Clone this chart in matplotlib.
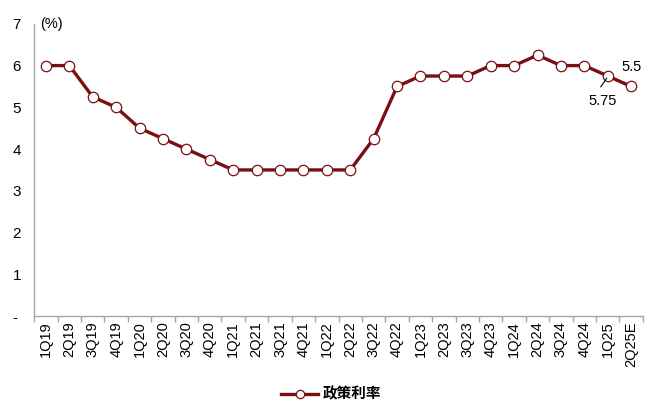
import matplotlib
matplotlib.use("Agg")
import matplotlib.pyplot as plt
from matplotlib.lines import Line2D

plt.rcParams['font.family'] = ['Liberation Sans', 'Noto Sans CJK SC', 'DejaVu Sans']

categories = ["1Q19", "2Q19", "3Q19", "4Q19", "1Q20", "2Q20", "3Q20", "4Q20",
              "1Q21", "2Q21", "3Q21", "4Q21", "1Q22", "2Q22", "3Q22", "4Q22",
              "1Q23", "2Q23", "3Q23", "4Q23", "1Q24", "2Q24", "3Q24", "4Q24",
              "1Q25", "2Q25E"]
policy_rate = [6, 6, 5.25, 5, 4.5, 4.25, 4, 3.75,
               3.5, 3.5, 3.5, 3.5, 3.5, 3.5, 4.25, 5.5,
               5.75, 5.75, 5.75, 6, 6, 6.25, 6, 6,
               5.75, 5.5]
series_name = "政策利率"
y_ticks = [0, 1, 2, 3, 4, 5, 6, 7]
y_ticklabels = ["-", "1", "2", "3", "4", "5", "6", "7"]

color = "#7A0F12"
axis_gray = "#A6A6A6"

fig = plt.figure(figsize=(6.58, 4.11), dpi=100)
ax = fig.add_axes([0.052, 0.231, 0.925, 0.711])

x = list(range(len(categories)))
ax.plot(x, policy_rate, color=color, lw=2.4, marker='o', ms=7.5,
        markerfacecolor='white', markeredgecolor=color, markeredgewidth=0.9,
        label=series_name, zorder=3)

ax.set_xlim(-0.5, len(categories) - 0.5)
ax.set_ylim(0, 7)
ax.set_yticks(y_ticks)
ax.set_yticklabels(y_ticklabels, fontsize=11)
ax.tick_params(axis='y', length=0, pad=15.5)
for lbl in ax.get_yticklabels():
    lbl.set_horizontalalignment('left')

ax.set_xticks(x)
ax.set_xticklabels(categories, rotation=90, fontsize=10.5)
ax.set_xticks([i - 0.5 for i in range(len(categories) + 1)], minor=True)
ax.tick_params(axis='x', which='major', length=0, pad=4)
ax.tick_params(axis='x', which='minor', length=4, color=axis_gray, width=1)

for s in ['top', 'right']:
    ax.spines[s].set_visible(False)
for s in ['left', 'bottom']:
    ax.spines[s].set_color(axis_gray)
    ax.spines[s].set_linewidth(1)

ax.text(0.01, 1.0, "(%)", transform=ax.transAxes, fontsize=10.5,
        ha='left', va='center')

# annotations
ax.text(x[-1], 5.97, "5.5", fontsize=10.5, ha='center', va='center')
ax.text(x[-2] - 0.2, 5.15, "5.75", fontsize=10.5, ha='center', va='center')
ax.annotate("", xy=(x[-2] - 0.04, policy_rate[-2] - 0.05),
            xytext=(x[-2] - 0.3, policy_rate[-2] - 0.26),
            arrowprops=dict(arrowstyle='-', color='black', lw=0.8,
                            shrinkA=0, shrinkB=0), zorder=4)

handle = Line2D([], [], color=color, lw=2.4, marker='o', ms=6,
                markerfacecolor='white', markeredgecolor=color,
                markeredgewidth=0.9)
leg = fig.legend([handle], [series_name], loc='center',
                 bbox_to_anchor=(0.503, 0.04), frameon=False,
                 prop={'size': 10.5, 'weight': 'bold'},
                 handlelength=2.6, handletextpad=0.3)

fig.savefig("out.png", dpi=100)
